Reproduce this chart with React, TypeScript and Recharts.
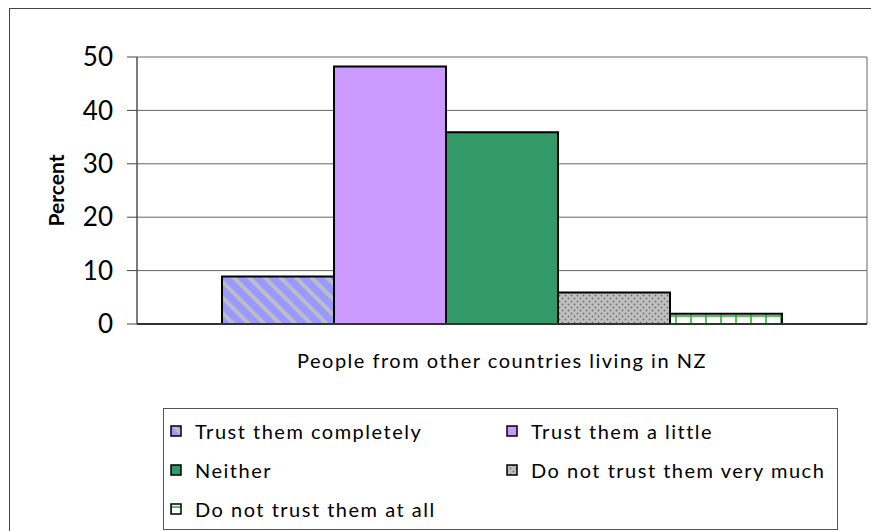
import React from "react";
import { BarChart, Bar, XAxis, YAxis, CartesianGrid, Legend } from "recharts";

// one category, five answer series
const categories = ["People from other countries living in NZ"];
const seriesNames = [
  "Trust them completely",
  "Trust them a little",
  "Neither",
  "Do not trust them very much",
  "Do not trust them at all",
];
const seriesValues = [8.9, 48.2, 35.9, 5.9, 1.9];
const seriesFills = ["url(#stripe)", "#CC99FF", "#339966", "url(#dots)", "url(#grid)"];
const yTicks = [0, 10, 20, 30, 40, 50];

const keys = seriesNames.map((_, i) => "s" + i);
const data = categories.map((name) => {
  const row: Record<string, string | number> = { name };
  keys.forEach((k, i) => (row[k] = seriesValues[i]));
  return row;
});

const FONT = "Lato, 'Open Sans', sans-serif";

function Patterns() {
  return (
    <svg width={0} height={0} style={{ position: "absolute" }}>
      <defs>
        <pattern id="stripe" width={11} height={11} patternUnits="userSpaceOnUse" patternTransform="rotate(-45)">
          <rect width={11} height={11} fill="#9999FF" />
          <rect width={4} height={11} fill="#BDBDC6" />
        </pattern>
        <pattern id="dots" width={6} height={6} patternUnits="userSpaceOnUse">
          <rect width={6} height={6} fill="#C0C0C0" />
          <circle cx={1.5} cy={1.5} r={0.9} fill="#707070" />
          <circle cx={4.5} cy={4.5} r={0.9} fill="#707070" />
        </pattern>
        <pattern id="grid" width={15} height={8} patternUnits="userSpaceOnUse">
          <rect width={15} height={8} fill="#FFFFFF" />
          <line x1={1} y1={0} x2={1} y2={8} stroke="#22AA22" strokeWidth={1.5} />
          <line x1={0} y1={4} x2={15} y2={4} stroke="#22AA22" strokeWidth={1.5} />
        </pattern>
      </defs>
    </svg>
  );
}

function LegendBox() {
  return (
    <div
      style={{
        position: "relative",
        width: 675,
        height: 122,
        boxSizing: "border-box",
        border: "1px solid #555",
        background: "#fff",
        fontFamily: FONT,
        fontSize: 20,
        letterSpacing: 1.5,
        color: "#000",
      }}
    >
      {seriesNames.map((n, i) => (
        <div
          key={n}
          style={{
            position: "absolute",
            left: i % 2 === 0 ? 6 : 342,
            top: 10 + Math.floor(i / 2) * 39,
            display: "flex",
            alignItems: "center",
            height: 24,
            whiteSpace: "nowrap",
          }}
        >
          <svg width={12} height={12} style={{ marginRight: 13 }}>
            <rect x={1} y={1} width={10} height={10} fill={seriesFills[i]} stroke="#000" strokeWidth={1.5} />
          </svg>
          <span>{n}</span>
        </div>
      ))}
    </div>
  );
}

function CategoryTick(props: any) {
  const { x, y, payload } = props;
  return (
    <text x={x} y={y} dy={36} textAnchor="middle" fontFamily={FONT} fontSize={20} letterSpacing={1.5} fill="#000">
      {payload.value}
    </text>
  );
}

function PercentLabel(props: any) {
  const vb = props.viewBox;
  const cx = vb.x + 55;
  const cy = vb.y + vb.height / 2;
  return (
    <text
      x={cx}
      y={cy}
      transform={`rotate(-90 ${cx} ${cy})`}
      textAnchor="middle"
      dominantBaseline="central"
      fontFamily={FONT}
      fontWeight="bold"
      fontSize={21}
      fill="#000"
    >
      Percent
    </text>
  );
}

export default function App() {
  return (
    <div style={{ position: "relative", width: 871, height: 531, overflow: "hidden", background: "#fff" }}>
      <style>{`body{margin:0}`}</style>
      <Patterns />
      <div
        style={{
          position: "absolute",
          left: 9,
          top: 8,
          width: 900,
          height: 600,
          border: "1px solid #444",
        }}
      />
      <div style={{ position: "absolute", left: 0, top: 0 }}>
        <BarChart
          width={871}
          height={531}
          data={data}
          margin={{ top: 57, right: 4, left: 0, bottom: 147 }}
          barCategoryGap={85}
          barGap={0}
        >
          <CartesianGrid
            stroke="#666"
            verticalCoordinatesGenerator={({ offset }: any) => [offset.left, offset.left + offset.width]}
          />
          <XAxis
            dataKey="name"
            height={60}
            axisLine={{ stroke: "#333", strokeWidth: 2 }}
            tickLine={false}
            tick={<CategoryTick />}
          />
          <YAxis
            width={137}
            domain={[0, 50]}
            ticks={yTicks}
            interval={0}
            tickSize={10}
            tickMargin={14}
            axisLine={{ stroke: "#444" }}
            tickLine={{ stroke: "#444" }}
            tick={{ fontFamily: FONT, fontSize: 26, fill: "#000" }}
            label={<PercentLabel />}
          />
          {keys.map((k, i) => (
            <Bar
              key={k}
              dataKey={k}
              name={seriesNames[i]}
              fill={seriesFills[i]}
              stroke="#000"
              strokeWidth={2}
              isAnimationActive={false}
            />
          ))}
          <Legend
            layout="horizontal"
            verticalAlign="middle"
            align="center"
            wrapperStyle={{ position: "absolute", left: 163, top: 408, width: 675, height: 122 }}
            content={() => <LegendBox />}
          />
        </BarChart>
      </div>
    </div>
  );
}
